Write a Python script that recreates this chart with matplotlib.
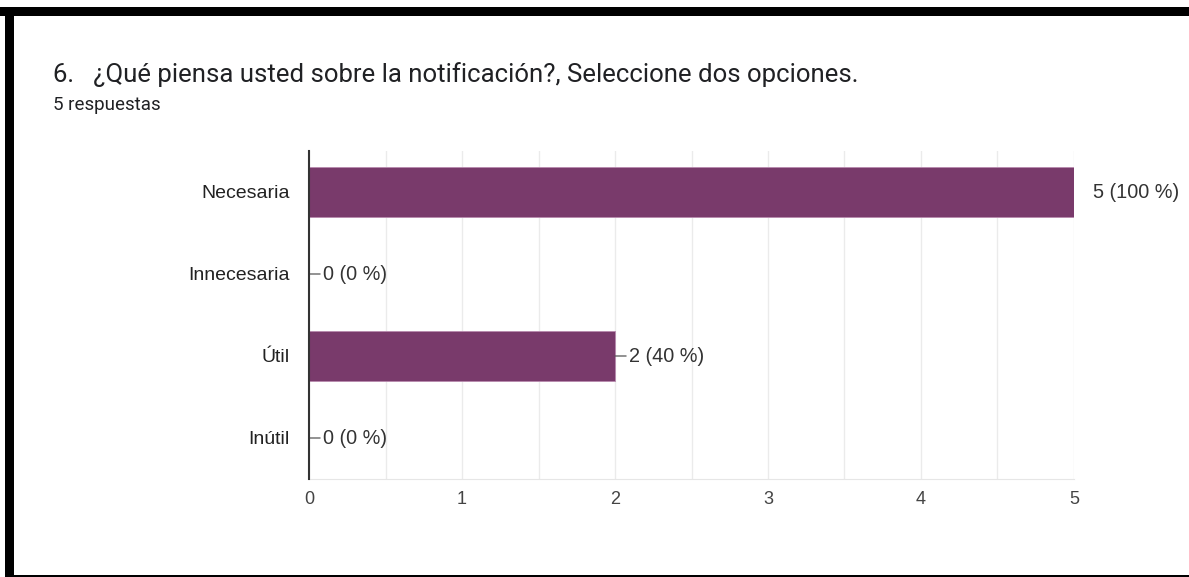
import matplotlib
matplotlib.use("Agg")
import matplotlib.pyplot as plt
from matplotlib.patches import Rectangle
from matplotlib.ticker import MultipleLocator

plt.rcParams["font.family"] = ["Roboto", "DejaVu Sans"]
CHART_FONT = ["Liberation Sans", "DejaVu Sans"]

categories = ["Necesaria", "Innecesaria", "Útil", "Inútil"]
counts = [5, 0, 2, 0]
percents = [100, 0, 40, 0]
xticks = [0, 1, 2, 3, 4, 5]

title = "6.   ¿Qué piensa usted sobre la notificación?, Seleccione dos opciones."
subtitle = "5 respuestas"

W, H = 1189, 577
fig = plt.figure(figsize=(W / 100, H / 100), dpi=100)
fig.patch.set_facecolor("white")

# marco negro de la captura
fig.add_artist(Rectangle((0, 1 - 16 / H), 1, 9 / H, transform=fig.transFigure,
                         facecolor="black", edgecolor="none"))
fig.add_artist(Rectangle((5 / W, 0), 9 / W, 1 - 16 / H, transform=fig.transFigure,
                         facecolor="black", edgecolor="none"))
fig.add_artist(Rectangle((5 / W, 0), 1 - 5 / W, 2 / H, transform=fig.transFigure,
                         facecolor="black", edgecolor="none"))

fig.text(53 / W, 1 - 75 / H, title, fontsize=18.5, color="#202124", va="center")
fig.text(53 / W, 1 - 105 / H, subtitle, fontsize=13.5, color="#202124", va="center")

left, right, top, bottom = 309, 1074, 151, 479
ax = fig.add_axes([left / W, 1 - bottom / H, (right - left) / W, (bottom - top) / H])

y = list(range(len(categories)))
ax.barh(y, counts, height=0.62, color="#793a6b", edgecolor="#b88aae", linewidth=0.6, zorder=3)

ax.set_xlim(0, 5)
ax.set_ylim(len(categories) - 0.5, -0.5)
ax.set_yticks(y)
ax.set_yticklabels(categories, fontsize=14, color="#222222", family=CHART_FONT)
ax.set_xticks(xticks)
ax.set_xticklabels([str(t) for t in xticks], fontsize=13, color="#444444", family=CHART_FONT)
ax.xaxis.set_minor_locator(MultipleLocator(0.5))
ax.tick_params(axis="both", which="both", length=0)
ax.tick_params(axis="y", pad=14)
ax.tick_params(axis="x", pad=9)
ax.grid(axis="x", which="both", color="#ebebeb", linewidth=1, zorder=0)

for s in ["top", "right"]:
    ax.spines[s].set_visible(False)
ax.spines["bottom"].set_color("#e6e6e6")
ax.spines["left"].set_color("#333333")
ax.spines["left"].set_linewidth(1.5)
ax.spines["left"].set_zorder(4)

for i, (c, p) in enumerate(zip(counts, percents)):
    label = f"{c} ({p} %)"
    if c == max(xticks):
        ax.annotate(label, xy=(c, i), xytext=(14, 0), textcoords="offset points",
                    va="center", ha="left", fontsize=14.3, color="#333333",
                    family=CHART_FONT, annotation_clip=False)
    else:
        ax.annotate(label, xy=(c, i), xytext=(10, 0), textcoords="offset points",
                    va="center", ha="left", fontsize=14.3, color="#333333",
                    family=CHART_FONT,
                    arrowprops=dict(arrowstyle="-", color="#555555", lw=0.9,
                                    shrinkA=0, shrinkB=0),
                    annotation_clip=False)

fig.savefig("out.png", dpi=100)
